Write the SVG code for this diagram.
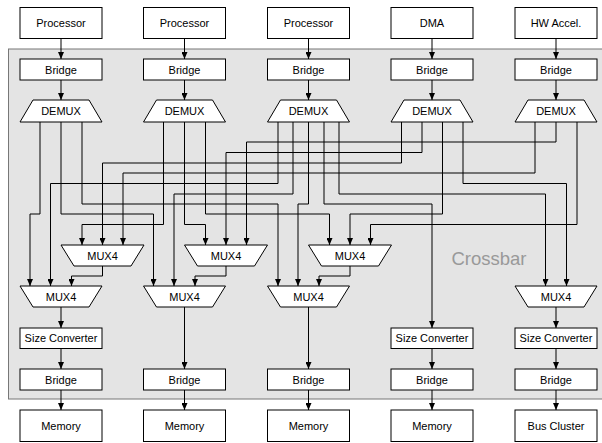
<svg xmlns="http://www.w3.org/2000/svg" width="602" height="443" viewBox="0 0 602 443">
<defs>
<marker id="arr" markerUnits="userSpaceOnUse" markerWidth="7" markerHeight="6" refX="7" refY="3" orient="auto" viewBox="0 0 7 6">
<path d="M0,0 L7,3 L0,6 z" fill="#000"/>
</marker>
<style>
.box{fill:#fff;stroke:#000;stroke-width:1}
.lbl{font-family:"Liberation Sans",Arial,sans-serif;font-size:11px;text-anchor:middle;fill:#000}
.w{fill:none;stroke:#000;stroke-width:1}
.a{marker-end:url(#arr)}
</style>
</defs>
<rect id="crossbar" x="8.5" y="49" width="600" height="350" fill="#e4e4e4" stroke="#777" stroke-width="1"/>
<text x="489" y="265" font-family="Liberation Sans,Arial,sans-serif" font-size="18.5" fill="#999" text-anchor="middle">Crossbar</text>

<g id="connectors" class="w">
<path class="a" d="M61,38.5 V59"/><path class="a" d="M184.5,38.5 V59"/><path class="a" d="M308.5,38.5 V59"/><path class="a" d="M432,38.5 V59"/><path class="a" d="M556,38.5 V59"/>
<path class="a" d="M61,80 V100"/><path class="a" d="M184.5,80 V100"/><path class="a" d="M308.5,80 V100"/><path class="a" d="M432,80 V100"/><path class="a" d="M556,80 V100"/>
<path class="a" d="M40,122 V214 H30 V286"/>
<path class="a" d="M61,122 V214 H153.5 V286"/>
<path class="a" d="M82,122 V204 H278 V286"/>
<path class="a" d="M163.5,122 V224.5 H82 V245"/>
<path class="a" d="M184.5,122 V224.5 H205.5 V245"/>
<path class="a" d="M205.5,122 V214 H329.5 V245"/>
<path class="a" d="M278,122 V183.5 H50.5 V286"/>
<path class="a" d="M293,122 V194 H174 V286"/>
<path class="a" d="M308.5,122 V204 H298 V286"/>
<path class="a" d="M324,122 V204 H432 V328"/>
<path class="a" d="M339,122 V194 H545.5 V286"/>
<path class="a" d="M401.5,122 V163 H102.5 V245"/>
<path class="a" d="M422,122 V152.5 H226 V245"/>
<path class="a" d="M442.5,122 V214 H350 V245"/>
<path class="a" d="M463,122 V183.5 H566.5 V286"/>
<path class="a" d="M535,122 V173 H123 V245"/>
<path class="a" d="M556,122 V142 H246.5 V245"/>
<path class="a" d="M577,122 V224.5 H370.5 V245"/>
<path class="a" d="M102.5,266 V276 H71.5 V286"/>
<path class="a" d="M226,266 V276 H195 V286"/>
<path class="a" d="M350,266 V276 H319 V286"/>
<path class="a" d="M61,307 V328"/>
<path class="a" d="M184.5,307 V369"/>
<path class="a" d="M308.5,307 V369"/>
<path class="a" d="M556,307 V328"/>
<path class="a" d="M61,348.5 V369"/><path class="a" d="M432,348.5 V369"/><path class="a" d="M556,348.5 V369"/>
<path class="a" d="M61,390 V410"/><path class="a" d="M184.5,390 V410"/><path class="a" d="M308.5,390 V410"/><path class="a" d="M432,390 V410"/><path class="a" d="M556,390 V410"/>
</g>

<g id="proc1"><rect class="box" x="20" y="7.5" width="82" height="31"/><text class="lbl" x="61" y="27">Processor</text></g>
<g id="proc2"><rect class="box" x="143.5" y="7.5" width="82" height="31"/><text class="lbl" x="184.5" y="27">Processor</text></g>
<g id="proc3"><rect class="box" x="267.5" y="7.5" width="82" height="31"/><text class="lbl" x="308.5" y="27">Processor</text></g>
<g id="dma"><rect class="box" x="391" y="7.5" width="82" height="31"/><text class="lbl" x="432" y="27">DMA</text></g>
<g id="hwaccel"><rect class="box" x="515" y="7.5" width="82" height="31"/><text class="lbl" x="556" y="27">HW Accel.</text></g>

<g id="bridge_in1"><rect class="box" x="20" y="59" width="82" height="21"/><text class="lbl" x="61" y="73.5">Bridge</text></g>
<g id="bridge_in2"><rect class="box" x="143.5" y="59" width="82" height="21"/><text class="lbl" x="184.5" y="73.5">Bridge</text></g>
<g id="bridge_in3"><rect class="box" x="267.5" y="59" width="82" height="21"/><text class="lbl" x="308.5" y="73.5">Bridge</text></g>
<g id="bridge_in4"><rect class="box" x="391" y="59" width="82" height="21"/><text class="lbl" x="432" y="73.5">Bridge</text></g>
<g id="bridge_in5"><rect class="box" x="515" y="59" width="82" height="21"/><text class="lbl" x="556" y="73.5">Bridge</text></g>

<g id="demux1"><polygon class="box" points="33,100 89,100 102,122 20,122"/><text class="lbl" x="61" y="115">DEMUX</text></g>
<g id="demux2"><polygon class="box" points="156.5,100 212.5,100 225.5,122 143.5,122"/><text class="lbl" x="184.5" y="115">DEMUX</text></g>
<g id="demux3"><polygon class="box" points="280.5,100 336.5,100 349.5,122 267.5,122"/><text class="lbl" x="308.5" y="115">DEMUX</text></g>
<g id="demux4"><polygon class="box" points="404,100 460,100 473,122 391,122"/><text class="lbl" x="432" y="115">DEMUX</text></g>
<g id="demux5"><polygon class="box" points="528,100 584,100 597,122 515,122"/><text class="lbl" x="556" y="115">DEMUX</text></g>

<g id="mux_u1"><polygon class="box" points="61,245 144,245 131,266 74,266"/><text class="lbl" x="102.5" y="259.5">MUX4</text></g>
<g id="mux_u2"><polygon class="box" points="184.5,245 267.5,245 254.5,266 197.5,266"/><text class="lbl" x="226" y="259.5">MUX4</text></g>
<g id="mux_u3"><polygon class="box" points="308.5,245 391.5,245 378.5,266 321.5,266"/><text class="lbl" x="350" y="259.5">MUX4</text></g>

<g id="mux_l1"><polygon class="box" points="20,286 102,286 89,307 33,307"/><text class="lbl" x="61" y="300.5">MUX4</text></g>
<g id="mux_l2"><polygon class="box" points="143.5,286 225.5,286 212.5,307 156.5,307"/><text class="lbl" x="184.5" y="300.5">MUX4</text></g>
<g id="mux_l3"><polygon class="box" points="267.5,286 349.5,286 336.5,307 280.5,307"/><text class="lbl" x="308.5" y="300.5">MUX4</text></g>
<g id="mux_l5"><polygon class="box" points="515,286 597,286 584,307 528,307"/><text class="lbl" x="556" y="300.5">MUX4</text></g>

<g id="sizeconv1"><rect class="box" x="20" y="328" width="82" height="20.5"/><text class="lbl" x="61" y="342">Size Converter</text></g>
<g id="sizeconv4"><rect class="box" x="391" y="328" width="82" height="20.5"/><text class="lbl" x="432" y="342">Size Converter</text></g>
<g id="sizeconv5"><rect class="box" x="515" y="328" width="82" height="20.5"/><text class="lbl" x="556" y="342">Size Converter</text></g>

<g id="bridge_out1"><rect class="box" x="20" y="369" width="82" height="21"/><text class="lbl" x="61" y="383.5">Bridge</text></g>
<g id="bridge_out2"><rect class="box" x="143.5" y="369" width="82" height="21"/><text class="lbl" x="184.5" y="383.5">Bridge</text></g>
<g id="bridge_out3"><rect class="box" x="267.5" y="369" width="82" height="21"/><text class="lbl" x="308.5" y="383.5">Bridge</text></g>
<g id="bridge_out4"><rect class="box" x="391" y="369" width="82" height="21"/><text class="lbl" x="432" y="383.5">Bridge</text></g>
<g id="bridge_out5"><rect class="box" x="515" y="369" width="82" height="21"/><text class="lbl" x="556" y="383.5">Bridge</text></g>

<g id="mem1"><rect class="box" x="20" y="410" width="82" height="31.5"/><text class="lbl" x="61" y="430">Memory</text></g>
<g id="mem2"><rect class="box" x="143.5" y="410" width="82" height="31.5"/><text class="lbl" x="184.5" y="430">Memory</text></g>
<g id="mem3"><rect class="box" x="267.5" y="410" width="82" height="31.5"/><text class="lbl" x="308.5" y="430">Memory</text></g>
<g id="mem4"><rect class="box" x="391" y="410" width="82" height="31.5"/><text class="lbl" x="432" y="430">Memory</text></g>
<g id="buscluster"><rect class="box" x="515" y="410" width="82" height="31.5"/><text class="lbl" x="556" y="430">Bus Cluster</text></g>
</svg>
